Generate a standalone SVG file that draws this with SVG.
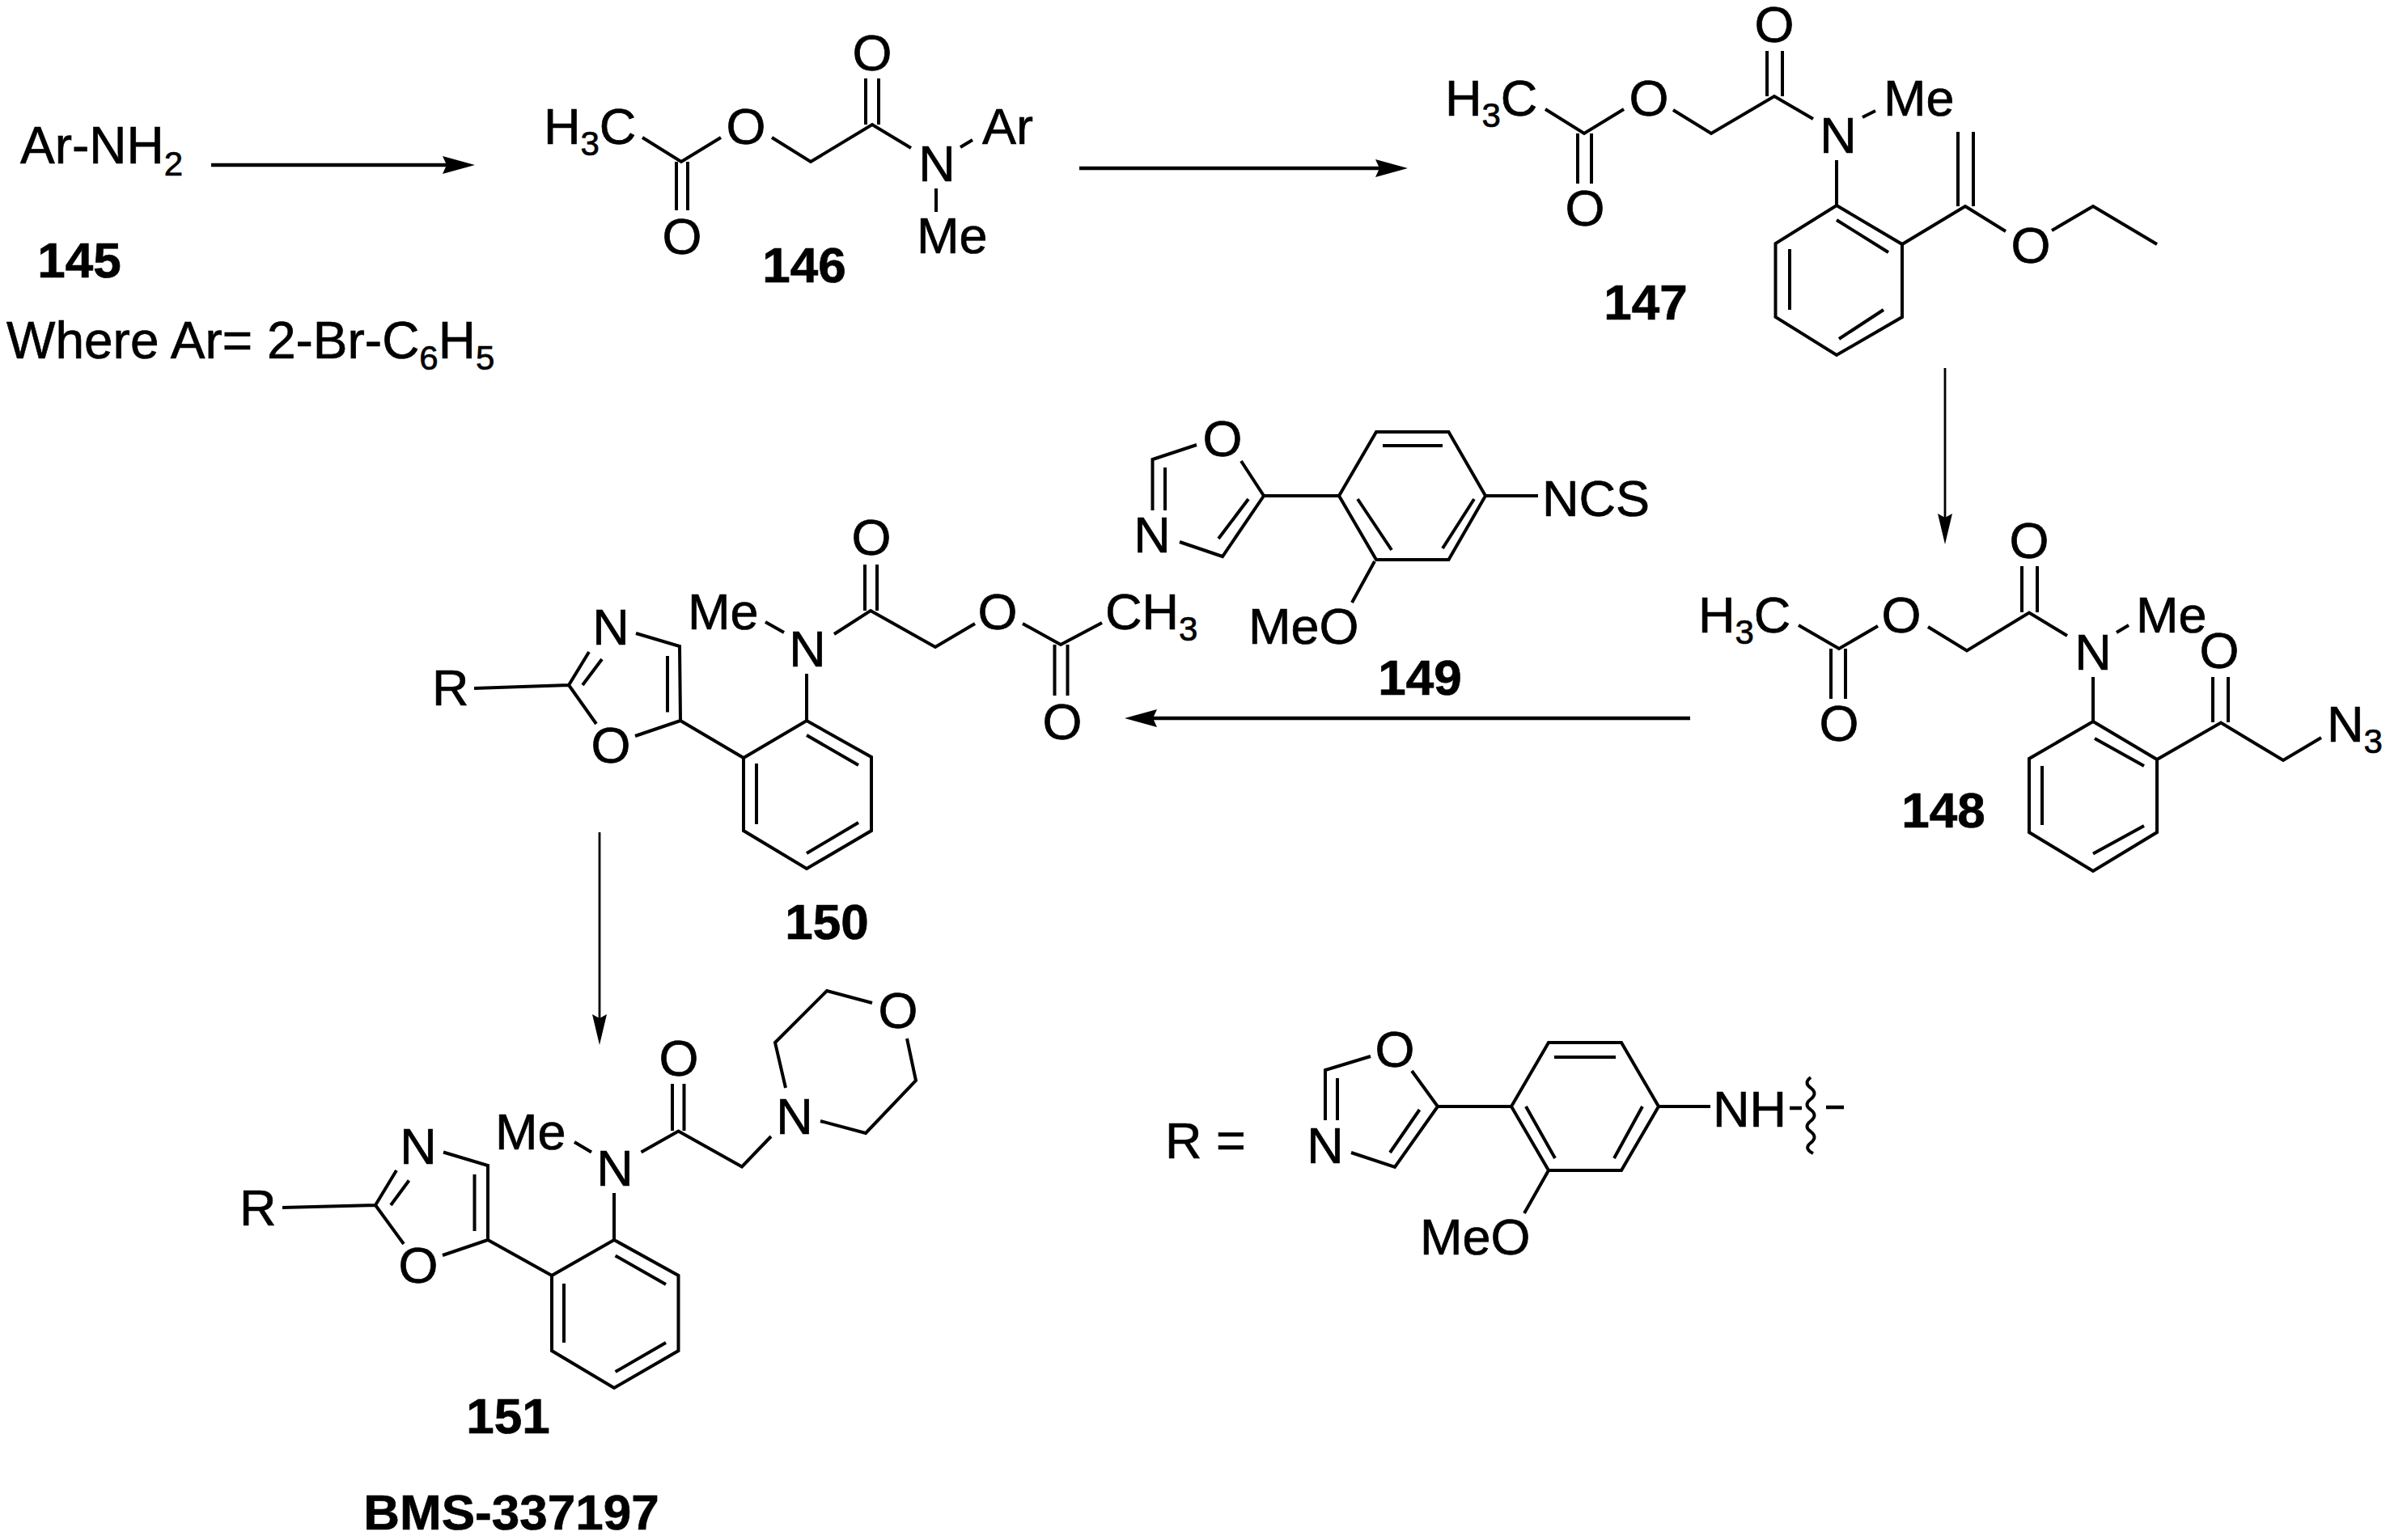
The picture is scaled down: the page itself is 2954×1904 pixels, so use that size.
<svg xmlns="http://www.w3.org/2000/svg" width="2954" height="1904" viewBox="0 0 2954 1904">
<style>
text{font-family:"Liberation Sans",Arial,sans-serif;font-size:63px;fill:#000;stroke:#000;stroke-width:.7}
.m{text-anchor:middle}
.t{font-size:64px}
.l{font-size:62px;font-weight:bold;text-anchor:middle}
.s{font-size:42px}
.b{fill:none;stroke:#000;stroke-width:4}
.a1{fill:none;stroke:#000;stroke-width:4.5}
.a2{fill:none;stroke:#000;stroke-width:2.8}
</style>
<defs>
<marker id="h1" markerUnits="userSpaceOnUse" viewBox="0 0 40 22" refX="30" refY="11" markerWidth="40" markerHeight="22" orient="auto"><path d="M0 0L40 11L0 22L5 11z" fill="#000"/></marker>
<marker id="h2" markerUnits="userSpaceOnUse" viewBox="0 0 38 18" refX="28" refY="9" markerWidth="38" markerHeight="18" orient="auto"><path d="M0 0L38 9L0 18L5 9z" fill="#000"/></marker>
</defs>
<rect width="2954" height="1904" fill="#fff"/>
<g id="connectors">
<path class="a1" d="M261 204H577" marker-end="url(#h1)"/>
<path class="a1" d="M1334 208H1730" marker-end="url(#h1)"/>
<path class="a2" d="M2404 455V663" marker-end="url(#h2)"/>
<path class="a1" d="M2089 888H1400" marker-end="url(#h1)"/>
<path class="a2" d="M741 1029V1282" marker-end="url(#h2)"/>
</g>
<g id="n145">
<text class="t" x="25" y="202">Ar-NH<tspan class="s" dy="15">2</tspan></text>
<text class="l" x="98" y="343">145</text>
<text class="t" x="8" y="443">Where Ar= 2-Br-C<tspan class="s" dy="14">6</tspan><tspan dy="-14">H</tspan><tspan class="s" dy="14">5</tspan></text>
</g>
<g id="n146">
<path class="b" d="M794 170L842 200L891 170M836 200V260M850 200V260M954 170L1002 200L1078 154L1126 183M1070 154V97M1086 154V97M1187 182L1202 173M1157 233V262"/>
<text x="672" y="178">H<tspan class="s" dy="14">3</tspan><tspan dy="-14">C</tspan></text>
<text class="m" x="922" y="178">O</text>
<text class="m" x="843" y="314">O</text>
<text class="m" x="1078" y="87">O</text>
<text class="m" x="1158" y="224">N</text>
<text x="1214" y="178">Ar</text>
<text x="1133" y="313">Me</text>
<text class="l" x="994" y="349">146</text>
</g>
<g id="n147">
<path class="b" d="M1910 135L1958 165L2007 135M1950 165V227M1967 165V227M2068 136L2115 165L2193 119L2241 147M2184 119V63M2203 119V63M2302 145L2318 137M2270 198V254"/>
<path class="b" d="M2270 254L2351 302V392L2270 439L2194.500 392V301L2270 254ZM2270 272L2334 312M2212 308V383M2328 383L2273 419"/>
<path class="b" d="M2351 302L2429 255L2479 286M2420 255V163M2439 255V163M2536 285L2587 255L2666 302"/>
<text x="1786" y="143">H<tspan class="s" dy="14">3</tspan><tspan dy="-14">C</tspan></text>
<text class="m" x="2038" y="143">O</text>
<text class="m" x="1959" y="279">O</text>
<text class="m" x="2193" y="52">O</text>
<text class="m" x="2272" y="189">N</text>
<text x="2328" y="143">Me</text>
<text class="m" x="2510" y="325">O</text>
<text class="l" x="2034" y="395">147</text>
</g>
<g id="n148">
<path class="b" d="M2223 773L2273 802L2321 774M2263 802V864M2281 802V864M2383 775L2431 804.500L2508 757.500L2555 786M2499 757V700M2518 757V700M2616 782L2631 773M2587 837V892"/>
<path class="b" d="M2587 892L2666 939V1029L2587 1077L2508 1029V938L2587 892ZM2589 913L2650 947M2524 947V1020M2650 1021L2587 1055.500"/>
<path class="b" d="M2666 939L2745 893.500L2822 940L2869 912M2735 893V837M2754 893V837"/>
<text x="2099" y="782">H<tspan class="s" dy="14">3</tspan><tspan dy="-14">C</tspan></text>
<text class="m" x="2350" y="782">O</text>
<text class="m" x="2273" y="916">O</text>
<text class="m" x="2508" y="690">O</text>
<text class="m" x="2587" y="828">N</text>
<text x="2640" y="782">Me</text>
<text class="m" x="2743" y="826">O</text>
<text x="2876" y="917">N<tspan class="s" dy="14">3</tspan></text>
<text class="l" x="2402" y="1023">148</text>
</g>
<g id="n149">
<path class="b" d="M1479 550L1424.500 568V631M1440 578V631M1458 670L1511 688L1562 613L1534 570M1506 666L1543 617M1562 613H1655"/>
<path class="b" d="M1655 613L1701 534H1790.500L1836 613L1790.500 692H1701L1655 613ZM1709 551H1783M1678 617L1720 680M1822 617L1783 678M1836 613H1901M1699 694L1671 745"/>
<text class="m" x="1511" y="564">O</text>
<text class="m" x="1424" y="683">N</text>
<text x="1906" y="638">NCS</text>
<text x="1543" y="796">MeO</text>
<text class="l" x="1755" y="859">149</text>
</g>
<g id="n150">
<path class="b" d="M586 851L703 847L728 806M720 847L744 815M703 847L737 895M785 910L841 891L840 799L786 783M825 811V880.500M841 891L919 937"/>
<path class="b" d="M919 937L997 891L1077 936V1027L997 1074L919 1027V937ZM997 909L1061 946M935 944V1019M1061 1017L997 1055"/>
<path class="b" d="M997 833V891M946 769L969 782M1031 784L1076 755L1156 800L1205 771M1069 755V698M1084 755V698M1264 771L1311 797L1362 770M1303.500 797V860M1319.500 797V860"/>
<text x="534" y="872">R</text>
<text class="m" x="755" y="797">N</text>
<text class="m" x="755" y="943">O</text>
<text x="850" y="778">Me</text>
<text class="m" x="998" y="824">N</text>
<text class="m" x="1077" y="686">O</text>
<text class="m" x="1233" y="778">O</text>
<text class="m" x="1313" y="914">O</text>
<text x="1366" y="778">CH<tspan class="s" dy="14">3</tspan></text>
<text class="l" x="1022" y="1161">150</text>
</g>
<g id="n151">
<path class="b" d="M349 1493L464 1490L490 1447M483 1490L505.500 1459.500M464 1490L499 1538M547 1552L603 1533L603 1441L548 1424.500M586.500 1452V1522M603 1533L682 1577"/>
<path class="b" d="M682 1577L759 1533L838.500 1577V1670L759 1716L682 1670V1577ZM760.600 1552.500L823 1588M697 1587V1660M823 1660L760.600 1696"/>
<path class="b" d="M759 1475V1533M710 1412L731 1424.500M792.500 1424.500L838.500 1398.500L917 1442.500L953 1405M831 1398V1340M845.500 1398V1340"/>
<path class="b" d="M971 1345L958 1289L1022 1225L1078 1240M1121 1284L1132 1336L1070 1401L1014 1386"/>
<text x="296" y="1515">R</text>
<text class="m" x="517" y="1439">N</text>
<text class="m" x="517" y="1586">O</text>
<text x="612" y="1421">Me</text>
<text class="m" x="760" y="1466">N</text>
<text class="m" x="839" y="1330">O</text>
<text class="m" x="982" y="1402">N</text>
<text class="m" x="1110" y="1271">O</text>
<text class="l" x="628" y="1772">151</text>
<text class="l" x="632" y="1891">BMS-337197</text>
</g>
<g id="r-group">
<path class="b" d="M1694 1306L1638 1323V1385M1653 1333V1385M1670 1425L1724 1443L1777 1368L1745 1324M1718 1425L1754.500 1372M1777 1368H1868"/>
<path class="b" d="M1868 1368L1914 1289H2004L2050 1368L2004 1447H1914L1868 1368ZM1921 1307H1997M1886 1368L1922 1432M2030 1368L1995 1432M1914 1447L1884 1500M2050 1368H2114"/>
<path class="a1" d="M2212 1370H2227M2257 1369H2279"/>
<path class="b" d="M2238 1332Q2229 1339 2238 1345Q2247 1352 2238 1359Q2229 1366 2238 1372Q2247 1379 2238 1386Q2229 1393 2238 1399Q2247 1406 2238 1413Q2229 1420 2241 1426"/>
<text x="1440" y="1432">R =</text>
<text class="m" x="1638" y="1438">N</text>
<text class="m" x="1724" y="1319">O</text>
<text x="1755" y="1551">MeO</text>
<text x="2117" y="1393">NH</text>
</g>
</svg>
